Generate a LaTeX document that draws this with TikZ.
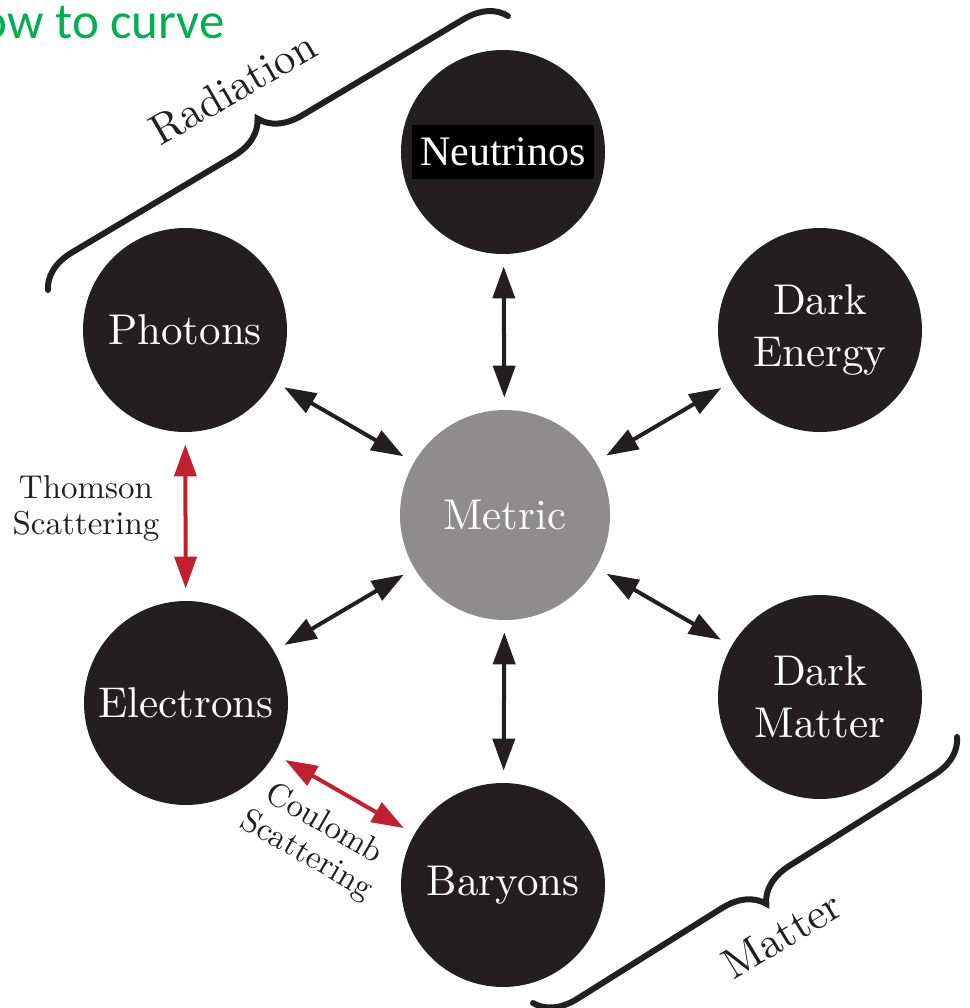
\documentclass[tikz,border=0pt]{standalone}
\usepackage{fontspec}
\newfontfamily\timesfont{Liberation Serif}
\newfontfamily\calfont{Carlito}
\newfontfamily\cmten{lmroman10-regular.otf}
\usepackage{tikz}
\usetikzlibrary{arrows.meta,positioning,decorations.pathreplacing}
\definecolor{ink}{HTML}{231F20}
\definecolor{metgray}{HTML}{8E8C8D}
\definecolor{scat}{HTML}{C1202F}
\definecolor{slide}{HTML}{00B050}
\tikzset{
  >={Triangle[length=16pt,width=11pt]},
  comp/.style={circle,fill=ink,minimum size=102pt,inner sep=0pt,align=center,text=white,font=\cmten\fontsize{21.5}{26}\selectfont},
  mcomp/.style={comp,fill=metgray,minimum size=105pt},
  note/.style={align=center,text=ink,font=\cmten\fontsize{16.5}{18}\selectfont},
  grp/.style={text=ink,font=\cmten\fontsize{21.5}{26}\selectfont},
  arr/.style={<->,draw=ink,line width=2pt,shorten <=6pt,shorten >=6pt},
  rarr/.style={arr,draw=scat},
  brc/.style={decorate,decoration={brace,amplitude=20pt},draw=ink,line width=3pt,line cap=round},
}
\begin{document}
\begin{tikzpicture}[x=0.5pt,y=0.5pt]
\useasboundingbox (0,0) rectangle (970,-1008);
% title scrap from the slide
\node[anchor=base east,text=slide,font=\calfont\fontsize{25.5}{30}\selectfont] (title) at (232,-38) {ow to curve};
% components
\node[comp] (ntr) at (503,-152) {};
\node[fill=black,text=white,inner xsep=4pt,minimum height=27pt,font=\timesfont\fontsize{21}{26}\selectfont] (ntrlab) at (ntr) {Neutrinos};
\node[comp] (pho) at (185,-330) {Photons};
\node[comp] (den) at (820,-330) {Dark\\Energy};
\node[mcomp] (met) at (505,-515) {Metric};
\node[comp] (ele) at (186,-703) {Electrons};
\node[comp] (dma) at (820,-697) {Dark\\Matter};
\node[comp] (bar) at (503,-885) {Baryons};
% gravity couplings
\draw[arr] (ntr) -- (met);
\draw[arr] (pho) -- (met);
\draw[arr] (den) -- (met);
\draw[arr] (met) -- (ele);
\draw[arr] (met) -- (dma);
\draw[arr] (met) -- (bar);
% scattering
\draw[rarr] (pho) -- (ele);
\draw[rarr] (ele) -- (bar);
\node[note] (thom) at (86,-508) {Thomson\\Scattering};
\node[note,rotate=-30] (coul) at (315,-840) {Coulomb\\Scattering};
% groups
\coordinate (r1) at (48,-290);
\coordinate (r2) at (508,-16);
\draw[brc] (r1) -- (r2);
\node[grp,rotate=30] (radlab) at (233,-88) {Radiation};
\coordinate (m1) at (957,-737);
\coordinate (m2) at (533,-1003);
\draw[brc] (m1) -- (m2);
\node[grp,rotate=31] (matlab) at (782,-935) {Matter};
\end{tikzpicture}
\end{document}
